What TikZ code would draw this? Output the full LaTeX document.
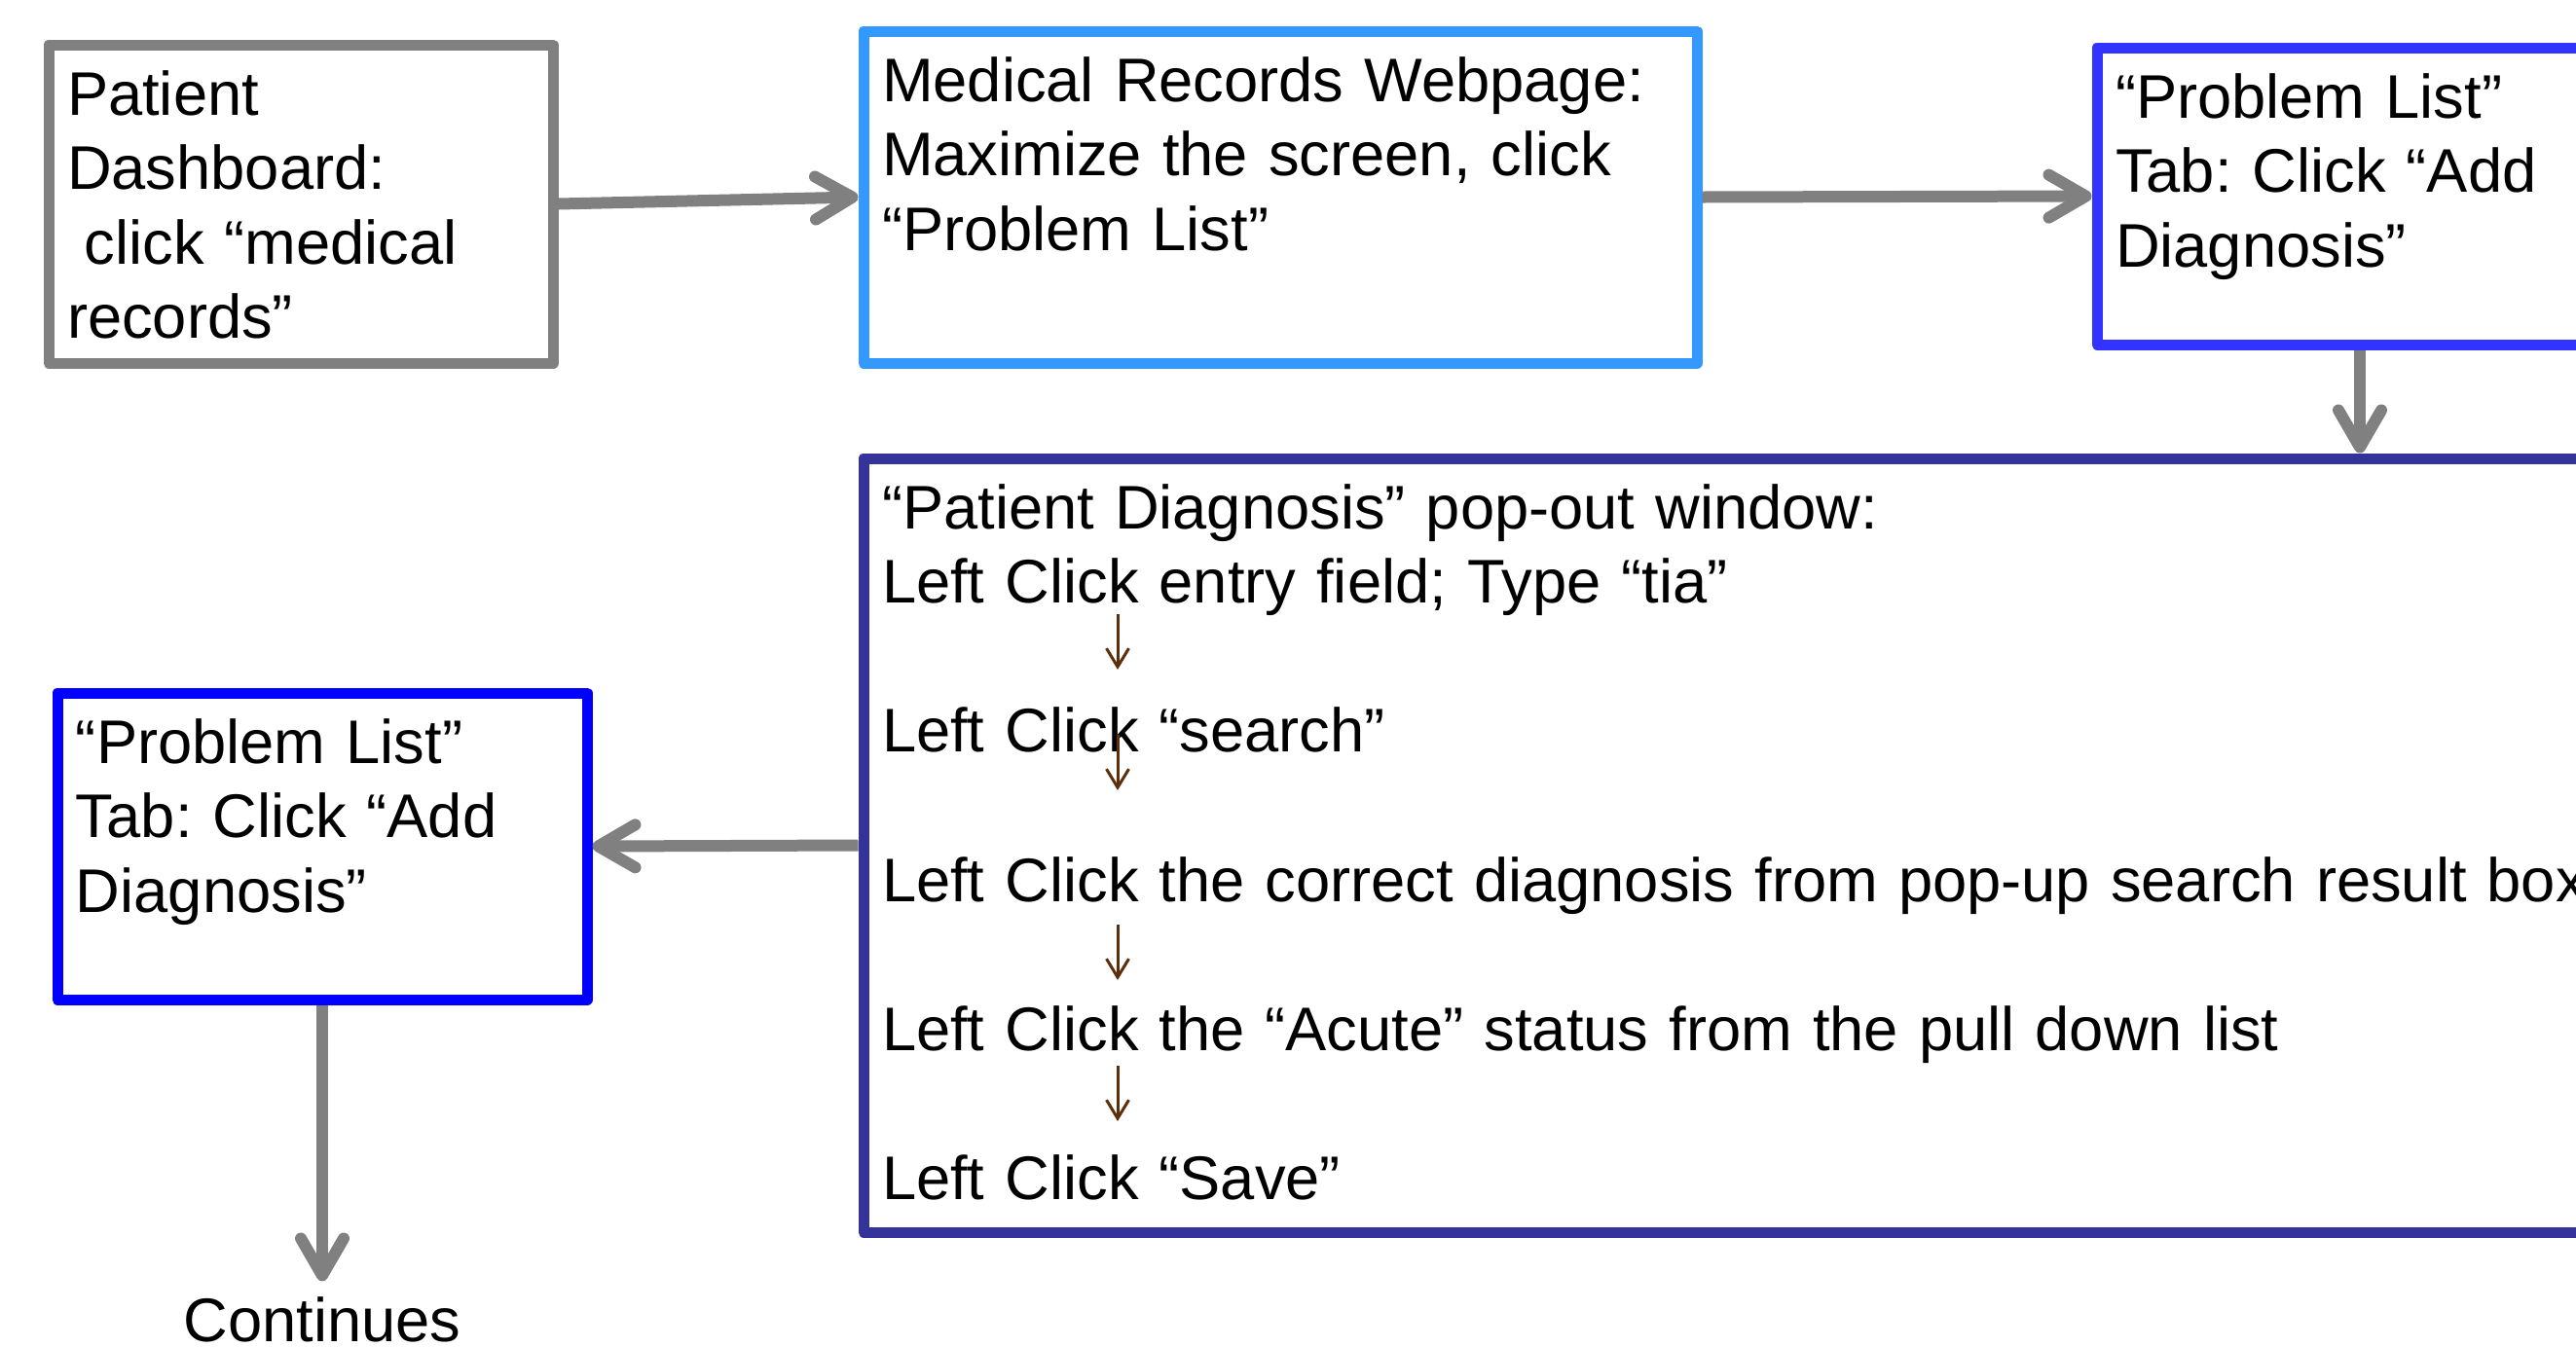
\documentclass[tikz,border=0pt]{standalone}
\usepackage{fontspec}
\setmainfont{Liberation Sans}
\usetikzlibrary{arrows.meta}

\definecolor{arrowgray}{HTML}{808080}
\definecolor{pageblue}{HTML}{3399FF}
\definecolor{tabblue}{HTML}{3333FF}
\definecolor{popblue}{HTML}{333399}
\definecolor{listblue}{HTML}{0000FF}
\definecolor{stepbrown}{HTML}{5C2E0A}

\frenchspacing

\begin{document}
\begin{tikzpicture}[x=1mm, y=-1mm,
  every node/.style={font=\fontsize{18}{21.8}\selectfont},
  panel/.style={draw, line width=1.1mm, line join=round, anchor=north west,
    align=left, inner xsep=1.9mm, inner ysep=0pt, text height=7.2mm},
  flow/.style={draw=arrowgray, line width=1.2mm,
    -{Straight Barb[length=3.8mm,width=4.4mm,round]}},
  substep/.style={draw=stepbrown, line width=0.85pt,
    -{Straight Barb[length=1.9mm,width=2.3mm]}}]

\path[use as bounding box, clip] (0,0) rectangle (264.6,138.3);

% first row
\node[panel, draw=arrowgray, text width=48.0mm, text depth=25.5mm] (dash) at (4.45,4.05)
  {Patient\\ Dashboard:\\ \hspace*{.28em}click “medical\\ records”};
\node[panel, draw=pageblue, text width=81.8mm, text depth=26.9mm] (webpage) at (88.15,2.65)
  {Medical Records Webpage:\\ Maximize the screen, click\\ “Problem List”};
\node[panel, draw=tabblue, text width=50.2mm, text depth=23.3mm] (tablist) at (214.85,4.35)
  {“Problem List”\\ Tab: Click “Add\\ Diagnosis”};

% pop-out window with its steps
\node[panel, draw=popblue, text width=196.2mm, text depth=72.3mm] (popout) at (88.15,46.55)
  {“Patient Diagnosis” pop-out window:\\
   Left Click entry field; Type “tia”\\[\baselineskip]
   Left Click “search”\\[\baselineskip]
   Left Click the correct diagnosis from pop-up search result box\\[\baselineskip]
   Left Click the “Acute” status from the pull down list\\[\baselineskip]
   Left Click “Save”};
\foreach \ya in {63.1,75.5,95.0,109.5}
  \draw[substep] (114.8,\ya) -- ++(0,5.7);

% back on the problem list
\node[panel, draw=listblue, text width=50.6mm, text depth=24.3mm] (tablistb) at (5.35,70.65)
  {“Problem List”\\ Tab: Click “Add\\ Diagnosis”};
\node[anchor=base, inner xsep=0pt, inner ysep=1.5mm] (cont) at (tablistb.south |- 0,137.8) {Continues};

\draw[flow] (dash.east) -- (webpage.west);
\draw[flow] (webpage.east) -- (tablist.west);
\draw[flow] (tablist.south) -- (tablist.south |- popout.north);
\draw[flow] (popout.west) -- (tablistb.east);
\draw[flow] (tablistb.south) -- (cont.north);
\end{tikzpicture}
\end{document}
